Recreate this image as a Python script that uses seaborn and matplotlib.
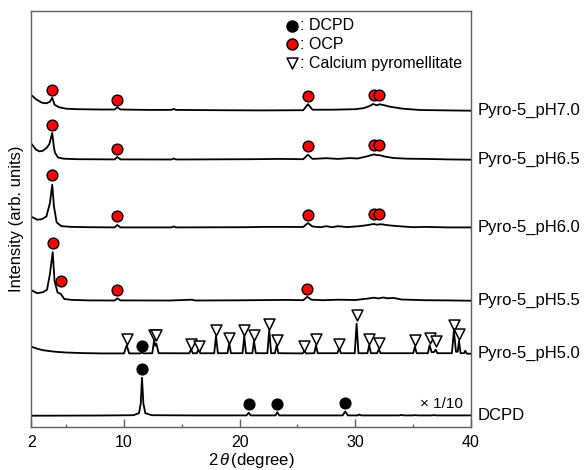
import pandas as pd
import matplotlib
matplotlib.use("Agg")
import matplotlib.pyplot as plt
import seaborn as sns
from matplotlib.transforms import blended_transform_factory

sns.set_theme(style="white")
plt.rcParams["font.family"] = ["Liberation Sans", "DejaVu Sans"]
plt.rcParams["mathtext.fontset"] = "custom"
plt.rcParams["mathtext.rm"] = "Liberation Sans"
plt.rcParams["mathtext.it"] = "Liberation Sans:italic"
plt.rcParams["text.color"] = "black"
plt.rcParams["axes.labelcolor"] = "black"
plt.rcParams["xtick.labelcolor"] = "black"

# Muestras (de arriba a abajo) y desplazamiento vertical de cada patron
samples = ["Pyro-5_pH7.0", "Pyro-5_pH6.5", "Pyro-5_pH6.0", "Pyro-5_pH5.5", "Pyro-5_pH5.0", "DCPD"]
offsets = [316, 267, 199, 126, 73, 11]

# Patrones XRD (2theta, intensidad relativa a la linea base)
x_ph70 = [2.0, 2.4, 2.9, 3.3, 3.6, 3.8, 4.0, 4.4, 5.0, 6.0, 8.0, 9.2, 9.42, 9.7, 12.0, 14.1, 14.3, 14.5,
          18.0, 22.0, 25.5, 25.9, 26.3, 28.0, 30.0, 30.7, 31.2, 31.55, 31.85, 32.1, 32.5, 33.0, 34.1, 35.6, 38.0, 40.0]
y_ph70 = [15.7, 11.4, 8.0, 7.4, 9.0, 13.0, 6.0, 3.4, 2.0, 1.5, 1.2, 1.2, 3.4, 1.2, 0.8, 0.8, 1.8, 0.8,
          0.5, 0.3, 0.5, 6.5, 1.0, 1.0, 1.5, 2.5, 4.5, 6.7, 5.4, 6.4, 5.5, 4.0, 2.0, 0.7, 0.3, 0.0]

x_ph65 = [2.0, 2.4, 2.7, 3.0, 3.3, 3.55, 3.8, 3.95, 4.05, 4.3, 4.8, 6.0, 9.2, 9.42, 9.7, 14.1, 14.3, 14.5,
          21.0, 23.5, 25.5, 25.9, 26.3, 27.5, 28.5, 29.5, 30.2, 31.0, 31.6, 31.9, 32.1, 32.6, 33.3, 34.5,
          36.0, 38.0, 40.0]
y_ph65 = [16.0, 10.0, 8.3, 9.0, 11.7, 15.5, 26.7, 12.0, 6.7, 2.2, 1.0, 0.5, 0.3, 2.7, 0.3, 0.2, 1.2, 0.2,
          0.5, 0.8, 0.5, 5.0, 0.8, 1.5, 0.8, 1.6, 1.2, 3.3, 5.3, 4.5, 4.5, 3.0, 1.7, 1.0,
          0.8, 0.3, 0.0]

x_ph60 = [2.0, 2.5, 2.9, 3.3, 3.6, 3.8, 3.95, 4.18, 4.6, 5.5, 7.0, 9.2, 9.42, 9.7, 14.1, 14.3, 14.5,
          20.5, 22.0, 24.0, 25.5, 25.9, 26.3, 27.0, 27.5, 28.0, 28.5, 29.3, 30.3, 31.0, 31.6, 31.9, 32.2,
          32.8, 33.5, 35.0, 36.0, 38.0, 40.0]
y_ph60 = [11.0, 8.0, 8.5, 11.3, 24.7, 43.0, 21.3, 5.3, 1.5, 0.8, 0.5, 0.3, 2.7, 0.3, 0.3, 1.3, 0.3,
          0.5, 0.8, 0.8, 0.7, 4.7, 1.2, 0.5, 1.5, 0.5, 1.5, 0.6, 1.5, 2.5, 3.7, 3.0, 3.5,
          2.5, 1.7, 0.5, 0.8, 0.3, 0.3]

x_ph55 = [2.0, 2.5, 3.0, 3.35, 3.6, 3.84, 4.0, 4.26, 4.55, 4.84, 5.5, 7.0, 9.2, 9.42, 9.7, 14.0, 15.85, 16.2,
          20.0, 24.0, 25.5, 25.85, 26.2, 27.2, 28.5, 30.0, 31.2, 31.6, 32.0, 32.4, 32.8, 33.3, 34.0, 36.0,
          38.0, 40.0]
y_ph55 = [10.5, 7.5, 8.5, 11.0, 26.7, 48.5, 20.0, 8.3, 6.7, 1.7, 0.8, 0.3, 0.2, 2.3, 0.3, 0.2, 1.0, 0.2,
          0.4, 0.8, 0.5, 4.0, 1.0, 0.5, 1.0, 0.7, 2.3, 3.0, 2.3, 3.2, 2.4, 2.8, 1.2, 0.5,
          0.3, 0.0]

x_ph50 = [2.0, 2.5, 3.0, 4.0, 5.0, 6.5, 8.0, 10.0, 10.24, 10.45, 11.4, 11.55, 11.7, 12.45, 12.6, 12.7, 12.8,
          13.0, 15.65, 15.8, 15.95, 16.3, 16.45, 16.6, 17.8, 17.96, 18.12, 18.95, 19.1, 19.25, 20.25, 20.4,
          20.55, 21.1, 21.24, 21.4, 22.4, 22.56, 22.72, 23.05, 23.2, 23.35, 25.45, 25.6, 25.75, 26.45, 26.6,
          26.75, 28.45, 28.6, 28.75, 29.95, 30.11, 30.27, 31.05, 31.2, 31.35, 31.88, 32.03, 32.18, 35.0,
          35.15, 35.3, 36.27, 36.42, 36.6, 36.8, 36.94, 37.1, 38.35, 38.52, 38.7, 38.85, 38.96, 39.1, 39.4,
          39.5, 39.65, 40.0]
y_ph50 = [7.0, 5.0, 3.5, 2.0, 1.2, 0.6, 0.3, 0.3, 8.5, 0.3, 0.3, 1.2, 0.3, 0.5, 13.0, 8.0, 10.0,
          0.5, 0.4, 4.5, 0.4, 0.5, 4.5, 0.4, 0.5, 17.5, 0.5, 0.5, 10.5, 0.5, 0.5, 17.5,
          0.5, 0.5, 12.5, 0.5, 0.5, 24.0, 0.5, 0.5, 8.5, 0.5, 0.3, 3.0, 0.3, 0.5, 8.5,
          0.5, 0.5, 5.5, 0.5, 0.5, 30.0, 0.5, 0.5, 8.5, 0.5, 0.5, 4.5, 0.5, 0.5,
          7.0, 0.5, 0.5, 8.5, 1.5, 1.5, 4.0, 0.5, 0.5, 23.0, 2.0, 2.0, 13.0, 0.5, 0.5,
          3.0, 0.0, 0.0]

x_dcpd = [2.0, 8.0, 10.8, 11.3, 11.45, 11.56, 11.68, 11.85, 12.4, 16.0, 20.6, 20.78, 20.95, 23.1, 23.26,
          23.42, 28.9, 29.13, 29.35, 30.2, 30.35, 30.5, 33.8, 34.0, 34.2, 35.0, 35.2, 35.4, 36.6, 36.8,
          37.0, 40.0]
y_dcpd = [0.0, 0.2, 0.5, 2.5, 12.0, 38.0, 12.0, 2.5, 0.5, 0.3, 0.3, 3.0, 0.3, 0.3, 3.5,
          0.3, 0.3, 4.3, 0.3, 0.3, 1.2, 0.3, 0.3, 0.8, 0.3, 0.3, 0.6, 0.3, 0.3, 0.6,
          0.3, 0.3]

patterns_x = [x_ph70, x_ph65, x_ph60, x_ph55, x_ph50, x_dcpd]
patterns_y = [y_ph70, y_ph65, y_ph60, y_ph55, y_ph50, y_dcpd]

# Marcadores de fases: (muestra, 2theta, altura sobre la linea base)
ocp_sample = [0, 0, 0, 0, 0, 1, 1, 1, 1, 1, 2, 2, 2, 2, 2, 3, 3, 3, 3]
ocp_x = [3.8, 9.42, 25.9, 31.6, 32.05, 3.8, 9.42, 25.9, 31.6, 32.05, 3.8, 9.42, 25.9, 31.6, 32.05,
         3.84, 4.56, 9.42, 25.85]
ocp_y = [20.7, 10.7, 14.7, 15.4, 15.4, 35.0, 10.7, 13.3, 14.3, 14.3, 53.0, 11.3, 13.0, 13.7, 13.7,
         57.7, 19.3, 10.7, 11.7]

dcpd_sample = [4, 5, 5, 5, 5]
dcpd_x = [11.53, 11.56, 20.78, 23.26, 29.13]
dcpd_y = [7.5, 47.0, 12.0, 12.0, 12.3]

pyro_x = [10.24, 12.6, 12.8, 15.8, 16.46, 17.96, 19.1, 20.4, 21.24, 22.56, 23.2, 25.59, 26.57, 28.59,
          30.11, 31.2, 32.04, 35.15, 36.42, 36.94, 38.52, 38.96]
pyro_y = [14.5, 19.2, 18.5, 10.2, 8.2, 23.5, 16.2, 23.5, 18.5, 30.2, 14.2, 7.5, 15.2, 10.2,
          39.2, 15.2, 10.8, 13.5, 16.2, 12.8, 28.5, 19.5]

# Tabla larga para seaborn
rows = []
for name, off, xs, ys in zip(samples, offsets, patterns_x, patterns_y):
    for x, y in zip(xs, ys):
        rows.append({"sample": name, "two_theta": x, "intensity": y + off})
df = pd.DataFrame(rows)

ocp = pd.DataFrame({"two_theta": ocp_x,
                    "intensity": [y + offsets[s] for s, y in zip(ocp_sample, ocp_y)]})
dcpd = pd.DataFrame({"two_theta": dcpd_x,
                     "intensity": [y + offsets[s] for s, y in zip(dcpd_sample, dcpd_y)]})
pyro = pd.DataFrame({"two_theta": pyro_x, "intensity": [y + offsets[4] for y in pyro_y]})

fig = plt.figure(figsize=(5.87, 4.70), dpi=100)
ax = fig.add_axes([0.0535, 0.0921, 0.7489, 0.8845])

sns.lineplot(data=df, x="two_theta", y="intensity", units="sample", estimator=None,
             sort=False, color="black", lw=1.3, ax=ax)

sns.scatterplot(data=pyro, x="two_theta", y="intensity", marker="v", s=62, color="white",
                edgecolor="black", linewidth=1.1, zorder=3, ax=ax)
sns.scatterplot(data=dcpd, x="two_theta", y="intensity", marker="o", s=60, color="black",
                edgecolor="black", linewidth=1.0, zorder=3, ax=ax)
sns.scatterplot(data=ocp, x="two_theta", y="intensity", marker="o", s=60, color="red",
                edgecolor="black", linewidth=1.0, zorder=3, ax=ax)

# Leyenda manual
leg_marker = [("o", "black", ": DCPD", 401), ("o", "red", ": OCP", 382.4),
              ("v", "white", ": Calcium pyromellitate", 363.4)]
for m, c, lab, yy in leg_marker:
    ax.scatter([24.5], [yy], marker=m, s=62, color=c, edgecolor="black", linewidth=1.1, zorder=3)
    ax.text(25.2, yy, lab, ha="left", va="center", fontsize=11.5)

ax.text(39.3, offsets[5] + 12, "\u00d7 1/10", ha="right", va="center", fontsize=11)

trans = blended_transform_factory(ax.transAxes, ax.transData)
for name, off in zip(samples, offsets):
    ax.text(1.016, off, name, transform=trans, ha="left", va="center", fontsize=12)

ax.set_xlim(2, 40)
ax.set_ylim(0, 415.7)
ax.set_xticks([2, 10, 20, 30, 40])
ax.set_xticks([5, 15, 25, 35], minor=True)
ax.set_yticks([])
ax.tick_params(axis="x", which="major", direction="in", length=5.5, width=1, color="#606060",
               labelsize=11.5, labelcolor="black", pad=6, bottom=True)
ax.tick_params(axis="x", which="minor", direction="in", length=2.5, width=1, color="#606060",
               bottom=True)
for sp in ax.spines.values():
    sp.set_color("#606060")
    sp.set_linewidth(1.0)

ax.set_xlabel(r"2$\,\theta\,$(degree)", fontsize=12, labelpad=1)
ax.set_ylabel("Intensity (arb. units)", fontsize=12, labelpad=5)

plt.savefig("out.png", dpi=100)
